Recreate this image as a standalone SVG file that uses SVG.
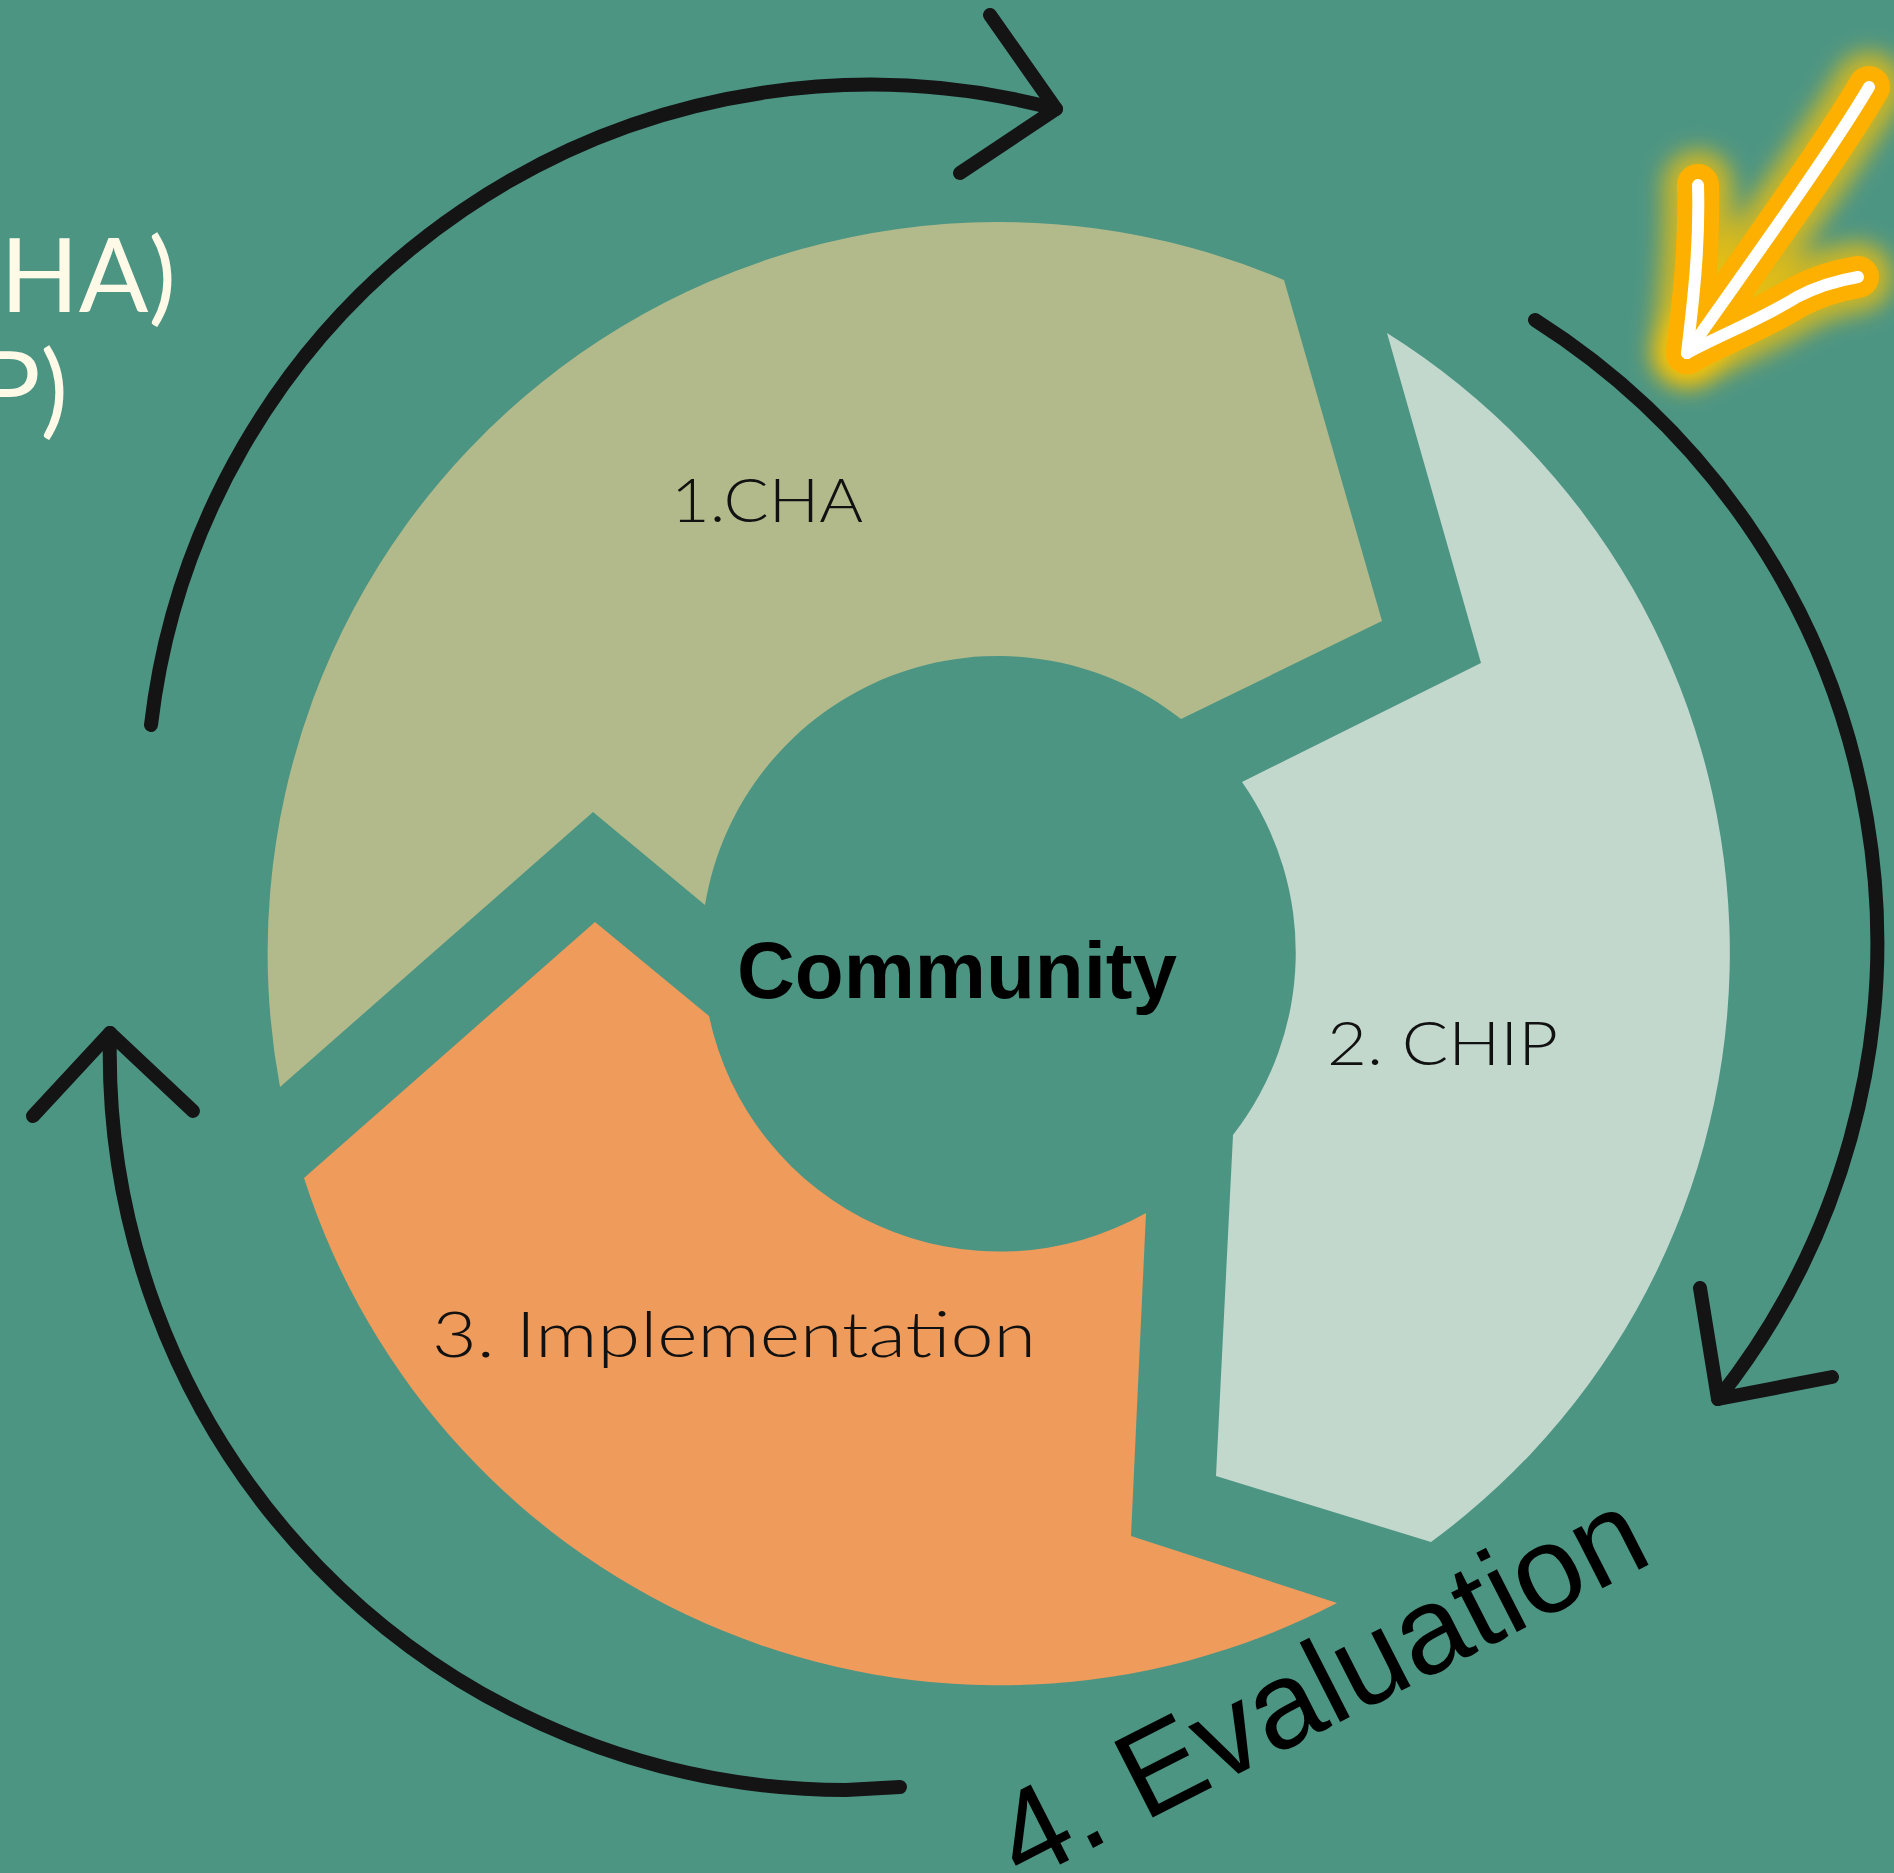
<svg xmlns="http://www.w3.org/2000/svg" width="1894" height="1873" viewBox="0 0 1894 1873">
  <defs>
    <style>
      .label { font-family: "Lato", "Inter", "Liberation Sans", sans-serif; font-weight: 300; fill: #111111; }
      .side { font-family: "Lato", "Open Sans", "Liberation Sans", sans-serif; font-weight: 400; fill: #FFF9E8; font-size: 103px; }
      .cycle { fill: none; stroke: #141414; stroke-width: 14; stroke-linecap: round; stroke-linejoin: round; }
      .hl-glow { fill: none; stroke: #FFC400; stroke-width: 70; stroke-linecap: round; stroke-linejoin: round; opacity: 0.7; }
      .hl-out { fill: none; stroke: #FDB000; stroke-width: 42; stroke-linecap: round; stroke-linejoin: round; }
      .hl-core { fill: none; stroke: #FFFFFF; stroke-width: 12; stroke-linecap: round; stroke-linejoin: round; }
    </style>
    <filter id="glow" x="-50%" y="-50%" width="200%" height="200%">
      <feGaussianBlur stdDeviation="11"/>
    </filter>
  </defs>

  <rect x="0" y="0" width="1894" height="1873" fill="#4D9583"/>

  <!-- side texts (partially cut off at left edge, as in the picture) -->
  <g id="side-text">
    <text class="side" x="176" y="312" text-anchor="end">HA)</text>
    <text class="side" x="68" y="425" text-anchor="end">P)</text>
  </g>

  <!-- ring segments -->
  <g id="node-cha">
    <path d="M280,1087 A731,731 0 0 1 1284,280 L1382,621 L1181,719 A297,297 0 0 0 705,905 L593,812 Z" fill="#B2BA8B"/>
    <text class="label" x="671" y="522" font-size="62" textLength="192" lengthAdjust="spacingAndGlyphs">1.CHA</text>
  </g>
  <g id="node-chip">
    <path d="M1387,333 L1481,663 L1242,782 A297,297 0 0 1 1233,1135 L1216,1476 L1431,1542 A731,731 0 0 0 1387,333 Z" fill="#C2D8CC"/>
    <text class="label" x="1327" y="1065" font-size="62" textLength="231" lengthAdjust="spacingAndGlyphs">2. CHIP</text>
  </g>
  <g id="node-impl">
    <path d="M595,922 L709,1016 A297,297 0 0 0 1146,1213 L1131,1536 L1337,1603 A731,731 0 0 1 304,1178 Z" fill="#EE9B5C"/>
    <text class="label" x="432" y="1357" font-size="64" textLength="604" lengthAdjust="spacingAndGlyphs">3. Implementation</text>
  </g>
  <g id="node-community">
    <text x="737" y="998" font-family="'Liberation Sans', Arial, sans-serif" font-weight="700" font-size="80" fill="#000000">Community</text>
  </g>
  <g id="node-eval">
    <text transform="translate(1022,1884) rotate(-27)" font-family="'Liberation Sans', Arial, sans-serif" font-size="123" fill="#000000">4. Evaluation</text>
  </g>

  <!-- cycle connectors -->
  <g id="connectors">
    <path class="cycle" d="M151,725 A724,724 0 0 1 1056,109"/>
    <path class="cycle" d="M990,15 L1056,109 L960,173"/>
    <path class="cycle" d="M1535,320 A736,736 0 0 1 1718,1399"/>
    <path class="cycle" d="M1700,1288 L1718,1399 L1832,1377"/>
    <path class="cycle" d="M900,1787 L846,1790 A737,737 0 0 1 110,1033"/>
    <path class="cycle" d="M33,1116 L110,1033 L193,1111"/>
  </g>

  <!-- highlight arrow -->
  <g id="highlight-arrow">
    <g filter="url(#glow)">
      <path class="hl-glow" d="M1869,87 C1835,145 1760,250 1687,353"/>
      <path class="hl-glow" d="M1698,185 C1700,250 1692,310 1687,353"/>
      <path class="hl-glow" d="M1687,353 C1720,335 1760,320 1797,297 C1820,285 1840,280 1858,277"/>
    </g>
    <path class="hl-out" d="M1869,87 C1835,145 1760,250 1687,353"/>
    <path class="hl-out" d="M1698,185 C1700,250 1692,310 1687,353"/>
    <path class="hl-out" d="M1687,353 C1720,335 1760,320 1797,297 C1820,285 1840,280 1858,277"/>
    <path class="hl-core" d="M1869,87 C1835,145 1760,250 1687,353"/>
    <path class="hl-core" d="M1698,185 C1700,250 1692,310 1687,353"/>
    <path class="hl-core" d="M1687,353 C1720,335 1760,320 1797,297 C1820,285 1840,280 1858,277"/>
  </g>
</svg>
